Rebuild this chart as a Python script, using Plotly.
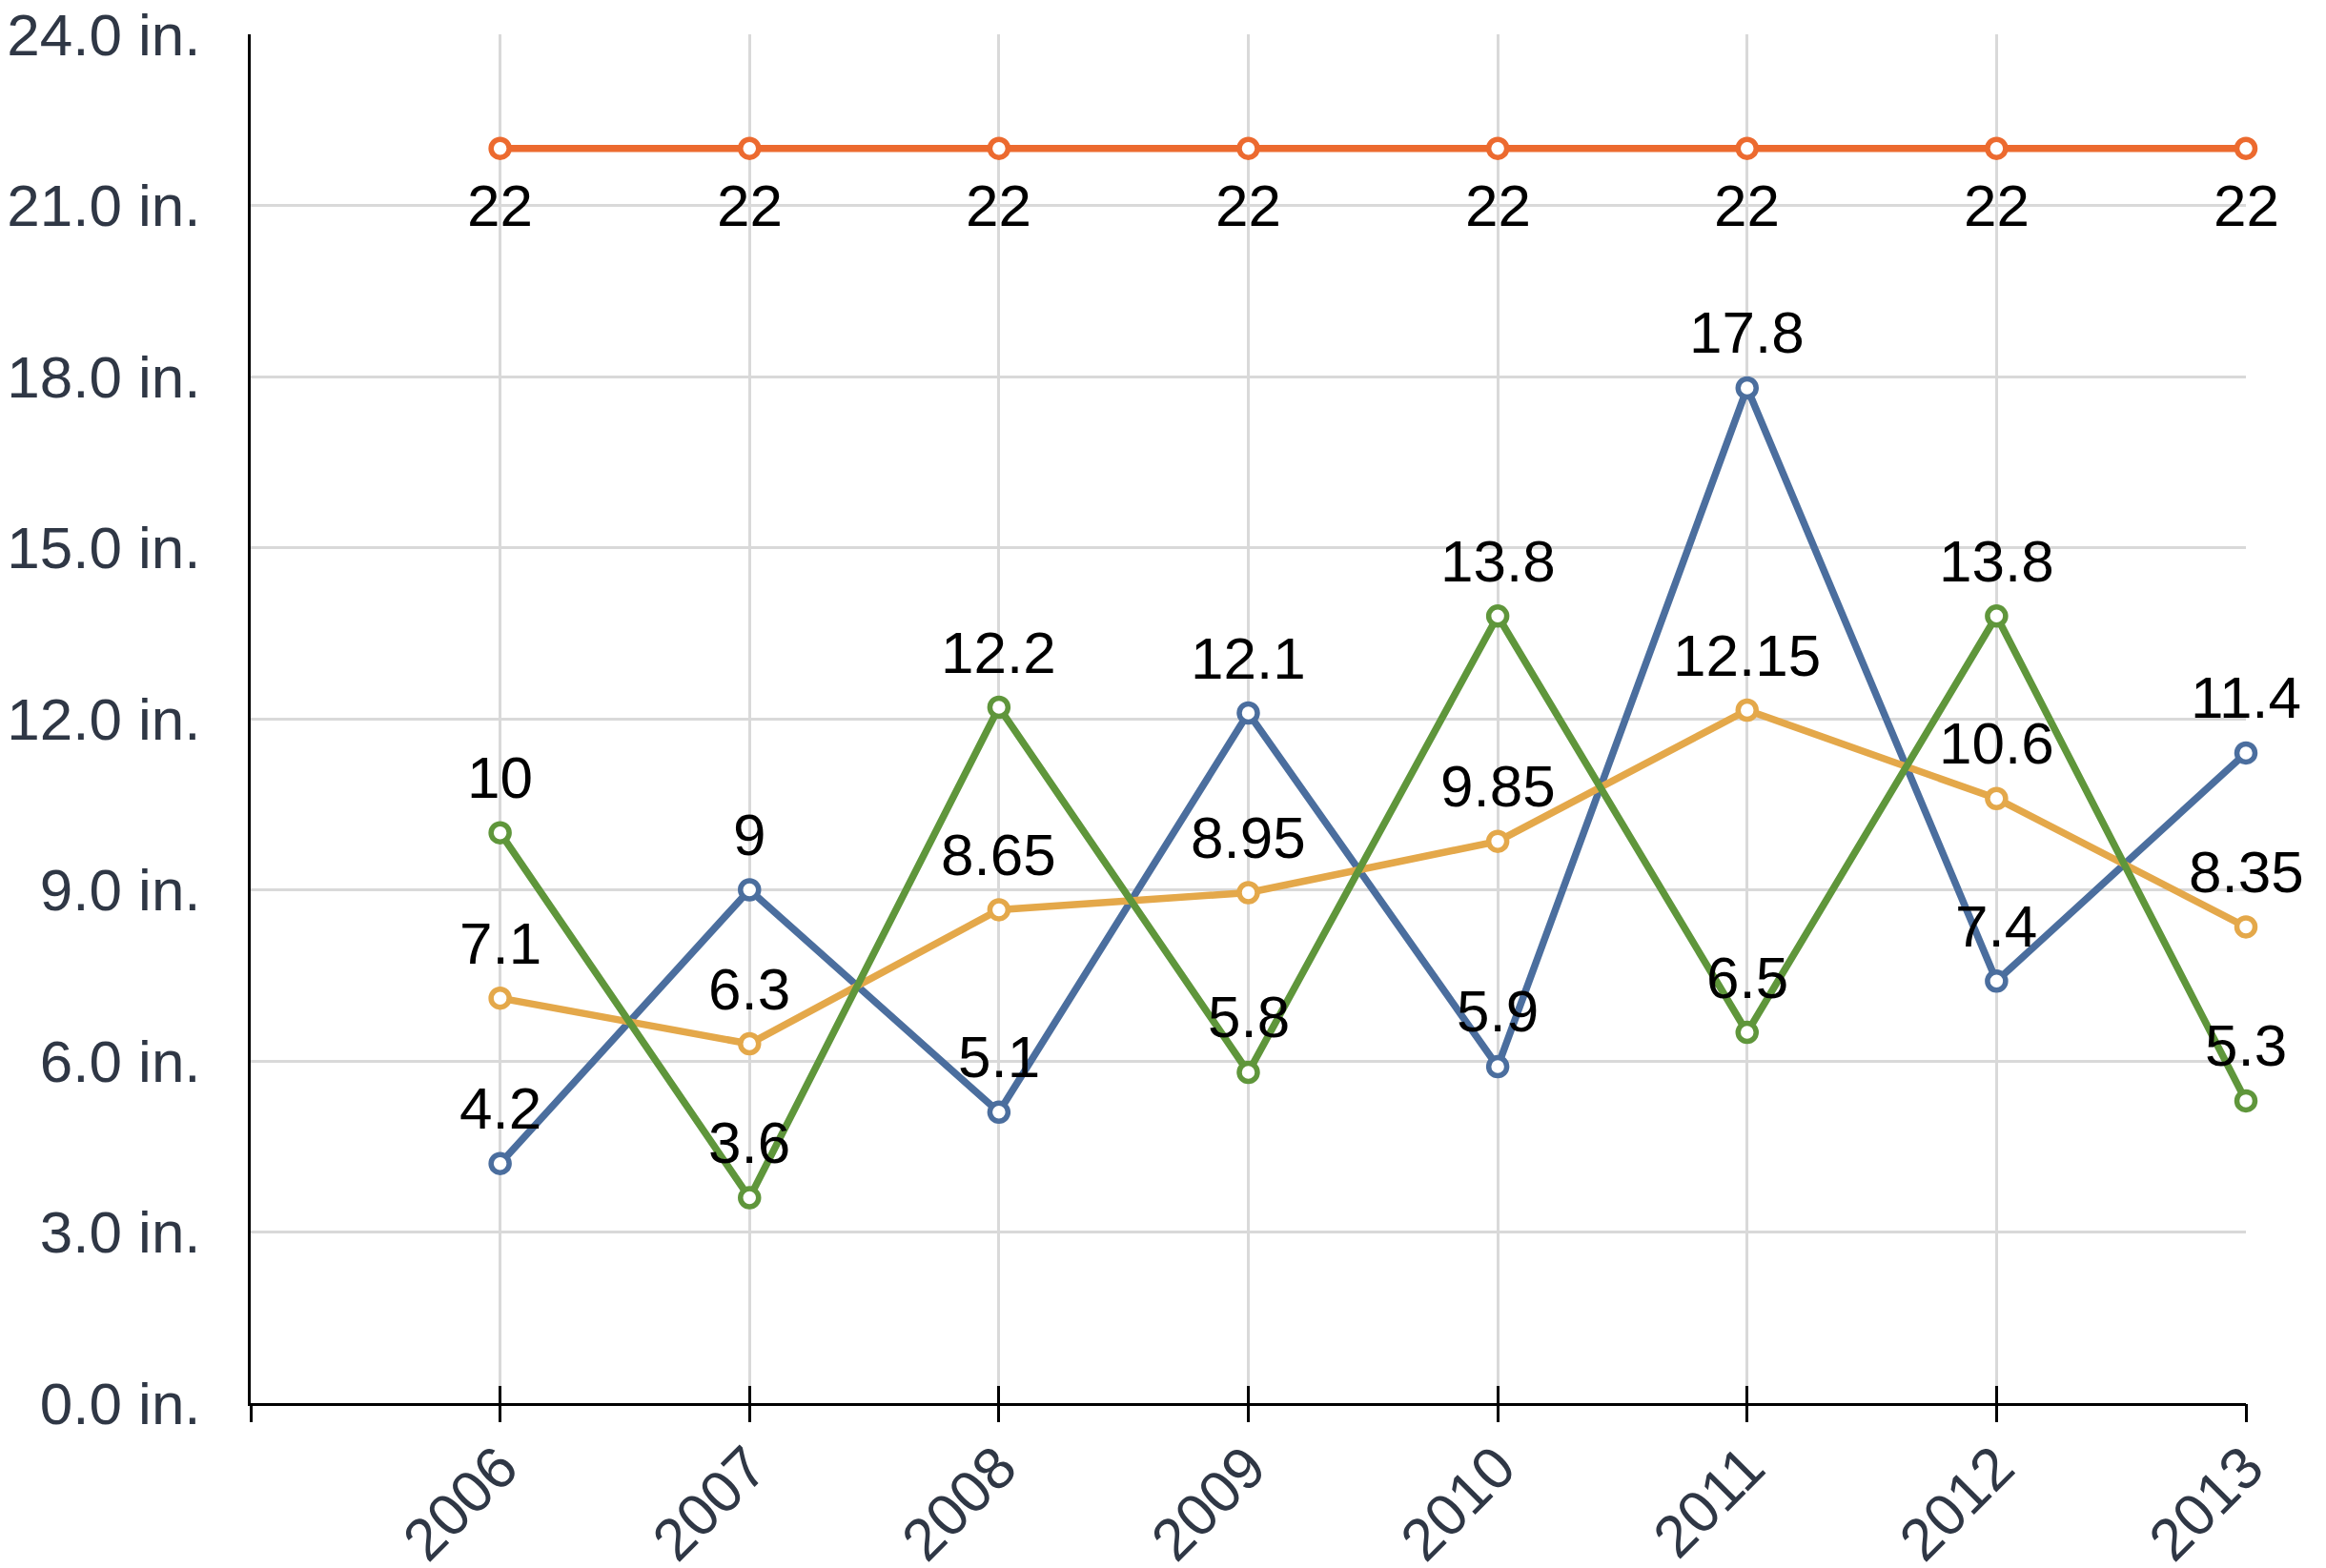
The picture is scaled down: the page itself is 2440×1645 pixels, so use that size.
import plotly.graph_objects as go

years = ["2006", "2007", "2008", "2009", "2010", "2011", "2012", "2013"]
x_pos = [2006, 2007, 2008, 2009, 2010, 2011, 2012, 2013]

blue_vals = [4.2, 9, 5.1, 12.1, 5.9, 17.8, 7.4, 11.4]
orange_vals = [22, 22, 22, 22, 22, 22, 22, 22]
yellow_vals = [7.1, 6.3, 8.65, 8.95, 9.85, 12.15, 10.6, 8.35]
green_vals = [10, 3.6, 12.2, 5.8, 13.8, 6.5, 13.8, 5.3]

y_ticks = [0, 3, 6, 9, 12, 15, 18, 21, 24]
y_ticktext = [f"{v:.1f} in." for v in y_ticks]

series = [
    (blue_vals, "#4b6e9e", 58),
    (orange_vals, "#ec6a2f", -60),
    (yellow_vals, "#e4a84a", 58),
    (green_vals, "#5f963b", 58),
]

FONT = "Liberation Sans, Arial, sans-serif"
TICK_COLOR = "#2f3745"

fig = go.Figure()
for vals, color, _ in series:
    fig.add_trace(go.Scatter(
        x=x_pos, y=vals, mode="lines+markers",
        line=dict(color=color, width=7.5),
        marker=dict(symbol="circle", size=19, color="white",
                    line=dict(color=color, width=5.5)),
        showlegend=False, hoverinfo="skip", cliponaxis=False,
    ))

annotations = []
for vals, color, shift in series:
    for xv, v in zip(x_pos, vals):
        annotations.append(dict(
            x=xv, y=v, xref="x", yref="y", text=f"{v:g}", showarrow=False,
            xanchor="center", yanchor="middle", yshift=shift,
            font=dict(family=FONT, size=62, color="#000000"),
        ))

# invisible trace to hold the outer tick axis
fig.add_trace(go.Scatter(x=[], y=[], xaxis="x2", yaxis="y", showlegend=False))

tickvals = [x_pos[0] - 1] + x_pos
ticktext = [""] + years

fig.update_layout(
    width=2432, height=1637,
    margin=dict(l=255, r=84, t=28, b=173),
    paper_bgcolor="white", plot_bgcolor="white",
    font=dict(family=FONT, size=62, color=TICK_COLOR),
    annotations=annotations,
    xaxis=dict(
        range=[x_pos[0] - 1, x_pos[-1]], automargin=False,
        tickmode="array", tickvals=tickvals, ticktext=ticktext,
        tickangle=-45, ticks="inside", ticklen=18, tickwidth=3, tickcolor="black",
        showline=True, linecolor="black", linewidth=3.3,
        showgrid=True, gridcolor="#d9d9d9", gridwidth=3,
        zeroline=False, ticklabeloverflow="allow",
        tickfont=dict(family=FONT, size=62, color=TICK_COLOR),
        ticklabelstandoff=3,
    ),
    xaxis2=dict(
        overlaying="x", anchor="y", side="bottom", automargin=False,
        range=[x_pos[0] - 1, x_pos[-1]],
        tickmode="array", tickvals=tickvals,
        ticks="outside", ticklen=19, tickwidth=3, tickcolor="black",
        showticklabels=False, showline=False, showgrid=False, zeroline=False,
    ),
    yaxis=dict(
        range=[0, 24], automargin=False,
        tickmode="array", tickvals=y_ticks, ticktext=y_ticktext,
        showline=True, linecolor="black", linewidth=3,
        showgrid=True, gridcolor="#d9d9d9", gridwidth=3,
        zeroline=False, ticks="", ticklabeloverflow="allow",
        ticklabelstandoff=37,
        tickfont=dict(family=FONT, size=62, color=TICK_COLOR),
    ),
)

fig.write_html("out.html")
